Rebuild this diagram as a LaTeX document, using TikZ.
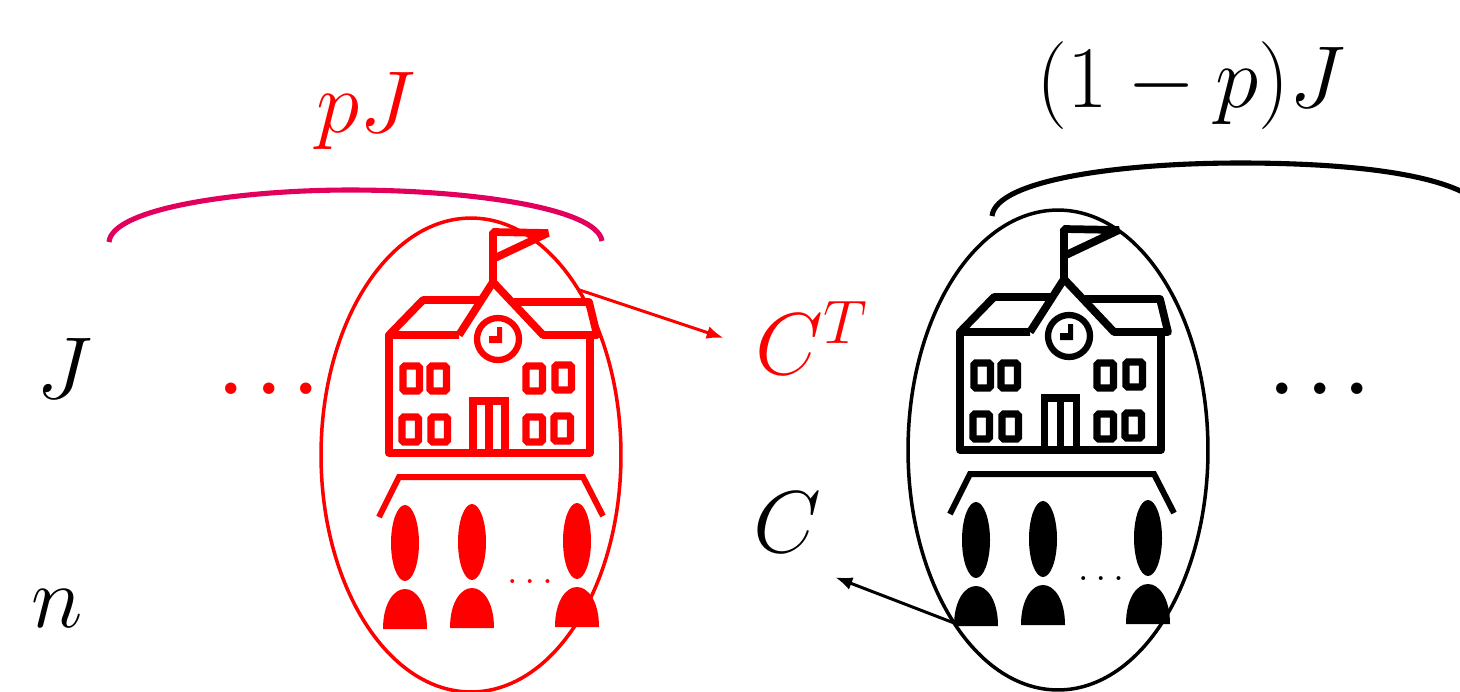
\documentclass[tikz,border=0pt]{standalone}
\usepackage{fix-cm}
\usetikzlibrary{arrows.meta,shapes.geometric}
\definecolor{SchoolRed}{HTML}{FF0000}
\definecolor{BraceCrimson}{HTML}{E2005C}
\tikzset{
  biglabel/.style={font=\fontsize{50}{56}\selectfont,inner sep=0pt},
  dotlabel/.style={font=\fontsize{42}{48}\selectfont\boldmath,inner sep=0pt},
  schooloval/.style={
    ellipse,
    draw,
    line width=2pt,
    minimum width=6cm,
    inner sep=0pt,
    outer sep=0pt
  },
  brace/.style={line width=2.9pt},
  linkflow/.style={-{Latex[length=0.34cm,width=0.26cm]},line width=1.7pt},
  schoolline/.style={line width=4.4pt,line join=round},
  schoolpic/.pic={
    % building
    \draw[schoolline] (389,335) -- (389,453) -- (590,453) -- (590,335);
    \draw[schoolline] (459,335) -- (389,335) -- (423,300) -- (480,300);
    \draw[schoolline] (514,302) -- (589,302) -- (597,335) -- (543,335) -- (493,282) -- (459,335);
    \draw[schoolline,line join=bevel] (493,282) -- (493,232) -- (548,233) -- (495,258);
    % clock
    \draw[line width=3.6pt] (498,339) circle [radius=21];
    \fill (497,327) -- (502,327) -- (502,343) -- (489,343) -- (489,336) -- (497,336) -- cycle;
    % windows
    \foreach \wx/\wy in {403/366,430/366,526/366,555/365,402/417,431/417,526/417,554/416}
      \draw[line width=4.2pt,rounded corners=1pt] (\wx,\wy) rectangle ++(16.5,25);
    % door
    \draw[line width=4pt] (473,453) -- (473,401) -- (505,401) -- (505,453);
    \draw[line width=4pt] (489,401) -- (489,453);
    % pupils
    \draw[line width=3.4pt] (379,517) -- (399,477) -- (583,477) -- (603,516);
    \foreach \px/\py in {405/0,472/-1,577/-2}{
      \fill (\px,543+\py) ellipse [x radius=14,y radius=38];
      \fill (\px-22,629+\py) .. controls (\px-22,603+\py) and (\px-11,589+\py) .. (\px,589+\py)
        .. controls (\px+11,589+\py) and (\px+22,603+\py) .. (\px+22,629+\py) -- cycle;
    }
    \node[inner sep=0pt,font=\fontsize{23}{26}\selectfont] (dots) at (530,582) {$\dots$};
  }
}
\begin{document}
\begin{tikzpicture}[x=0.02cm,y=-0.02cm]
  \useasboundingbox (0,0) rectangle (1460,691);
  % rows
  \node[biglabel] (rowJ) at (64,368) {$J$};
  \node[biglabel] (rowN) at (57,609) {$n$};
  % treated side
  \node[schooloval,draw=SchoolRed,minimum height=9.48cm] (redoval) at (471,455) {};
  \pic[color=SchoolRed] (redschool) at (0,0) {schoolpic};
  \node[biglabel,text=SchoolRed] (pJ) at (366,111) {$pJ$};
  \node[dotlabel,text=SchoolRed] (reddots) at (269,389) {$\dots$};
  \draw[brace,draw=BraceCrimson] (109,242) .. controls (112,208) and (240,190) .. (350,190)
    .. controls (470,190) and (597,208) .. (602,241);
  % control side
  \node[schooloval,draw=black,minimum height=9.6cm] (blackoval) at (1058,450) {};
  \pic[color=black] (blackschool) at (571,-3) {schoolpic};
  \node[biglabel] (qJ) at (1191,86) {$(1-p)J$};
  \node[dotlabel] (blackdots) at (1320,389) {$\dots$};
  \draw[brace] (992,216) .. controls (996,180) and (1120,163) .. (1240,163)
    .. controls (1340,163) and (1430,172) .. (1470,196);
  % means
  \node[biglabel,text=SchoolRed,minimum width=3.52cm] (meanT) at (812,338) {$C^T$};
  \node[biglabel,minimum width=1.92cm,minimum height=2.2cm] (meanC) at (787,522) {$C$};
  \draw[linkflow,draw=SchoolRed,fill=SchoolRed] (redoval.57) -- (meanT.west);
  \draw[linkflow,fill=black] (blackoval.239.5) -- (meanC.south east);
\end{tikzpicture}
\end{document}
